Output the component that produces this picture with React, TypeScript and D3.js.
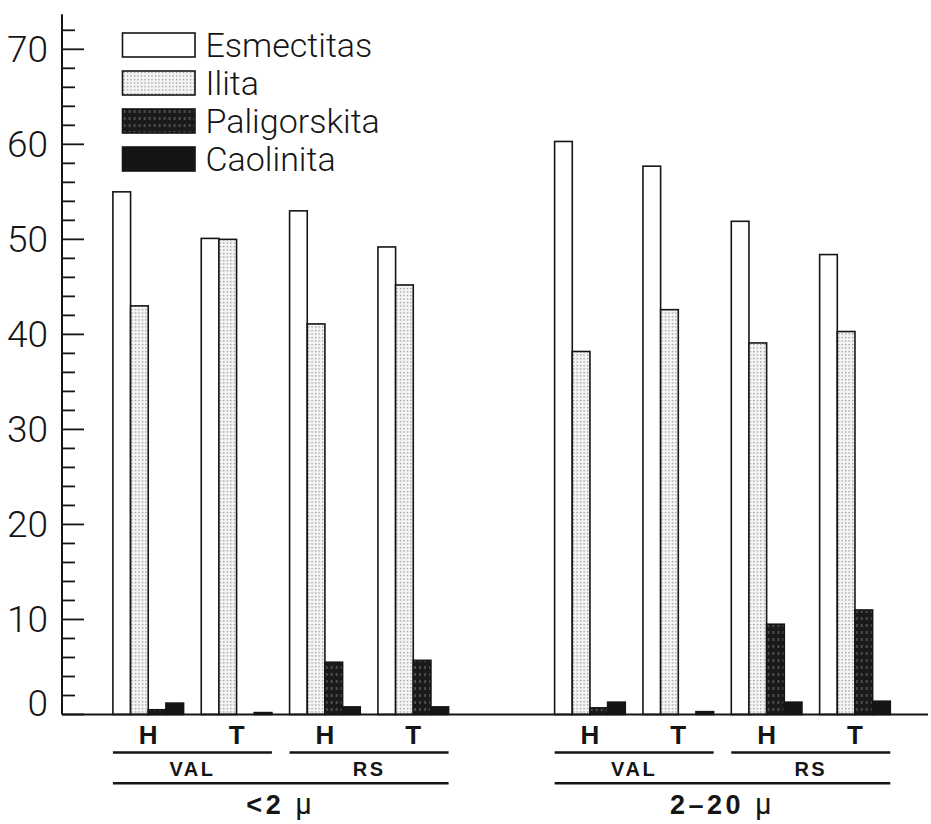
import React from "react";
import * as d3 from "d3";

const sizeClasses = ["<2", "2–20"];
const sites = ["VAL", "RS"];
const horizons = ["H", "T"];
const minerals = ["Esmectitas", "Ilita", "Paligorskita", "Caolinita"];
// order: <2 VAL H, <2 VAL T, <2 RS H, <2 RS T, 2-20 VAL H, 2-20 VAL T, 2-20 RS H, 2-20 RS T
const esmectitas = [55.0, 50.1, 53.0, 49.2, 60.3, 57.7, 51.9, 48.4];
const ilita = [43.0, 50.0, 41.1, 45.2, 38.2, 42.6, 39.1, 40.3];
const paligorskita = [0.5, 0, 5.5, 5.7, 0.7, 0, 9.5, 11.0];
const caolinita = [1.2, 0.2, 0.8, 0.8, 1.3, 0.3, 1.3, 1.4];
const tickLabels = [0, 10, 20, 30, 40, 50, 60, 70];

const seriesValues = [esmectitas, ilita, paligorskita, caolinita];
const fills = ["#ffffff", "url(#pIlita)", "url(#pPalig)", "#151515"];
const INK = "#151515";

export default function App() {
  const samples: { cls: string; site: string; hor: string; key: string }[] = [];
  sizeClasses.forEach((c) =>
    sites.forEach((s) =>
      horizons.forEach((h) => samples.push({ cls: c, site: s, hor: h, key: `${c}|${s}|${h}` }))
    )
  );
  const slotKeys = [
    ...samples.slice(0, 4).map((d) => d.key),
    "gap",
    ...samples.slice(4).map((d) => d.key),
  ];

  const x = d3
    .scaleBand<string>()
    .domain(slotKeys)
    .range([112.9, 890.3])
    .paddingInner(0.2)
    .paddingOuter(0);
  const xm = d3.scaleBand<string>().domain(minerals).range([0, x.bandwidth()]);
  const y = d3.scaleLinear().domain([0, 70]).range([714.5, 49.3]);

  const axisX = 62;
  const allTicks = d3.range(0, 73, 2);
  const tickFont = "Roboto, 'Open Sans', 'DejaVu Sans', sans-serif";
  const boldFont = "'Liberation Sans', Arial, sans-serif";

  const legendTop = 33;
  const legendPitch = 38;

  return (
    <svg
      width={931}
      height={824}
      viewBox="0 0 931 824"
      style={{ position: "absolute", left: 0, top: 0, background: "#fff" }}
    >
      <defs>
        <pattern id="pIlita" width={3.5} height={3.5} patternUnits="userSpaceOnUse">
          <rect width={3.5} height={3.5} fill="#f4f4f4" />
          <rect x={1} y={1} width={1.1} height={1.1} fill="#6a6a6a" />
        </pattern>
        <pattern id="pPalig" width={5} height={7} patternUnits="userSpaceOnUse">
          <rect width={5} height={7} fill="#1a1a1a" />
          <rect x={1.5} y={1} width={1.3} height={3} fill="#9a9a9a" opacity={0.6} />
        </pattern>
      </defs>

      {/* bars */}
      {samples.map((s, i) => (
        <g key={s.key} transform={`translate(${x(s.key)},0)`}>
          {minerals.map((m, j) => {
            const v = seriesValues[j][i];
            if (!(v > 0)) return null;
            return (
              <rect
                key={m}
                x={xm(m)}
                y={y(v)}
                width={xm.bandwidth()}
                height={y(0) - y(v)}
                fill={fills[j]}
                stroke={INK}
                strokeWidth={1.6}
              />
            );
          })}
        </g>
      ))}

      {/* y axis */}
      <line x1={axisX} x2={axisX} y1={y(0)} y2={y(73.7)} stroke={INK} strokeWidth={2} />
      {allTicks.map((t) => (
        <line
          key={t}
          x1={axisX}
          x2={axisX + (t % 10 === 0 ? 22 : 13)}
          y1={y(t)}
          y2={y(t)}
          stroke={INK}
          strokeWidth={1.8}
        />
      ))}
      {tickLabels.map((t) => (
        <text
          key={t}
          x={48}
          y={t === 0 ? y(t) - 11 : y(t)}
          textAnchor="end"
          dominantBaseline="central"
          fontFamily={tickFont}
          fontWeight={300}
          fontSize={37}
          fill={INK}
        >
          {t}
        </text>
      ))}

      {/* x baseline */}
      <line x1={axisX} x2={928} y1={y(0)} y2={y(0)} stroke={INK} strokeWidth={2} />

      {/* legend */}
      {minerals.map((m, j) => (
        <g key={m} transform={`translate(122.5,${legendTop + j * legendPitch})`}>
          <rect width={72.5} height={24} fill={fills[j]} stroke={INK} strokeWidth={1.6} />
          <text
            x={83}
            y={24}
            fontFamily={tickFont}
            fontWeight={300}
            fontSize={34}
            fill={INK}
          >
            {m}
          </text>
        </g>
      ))}

      {/* horizon labels */}
      {samples.map((s) => (
        <text
          key={"h" + s.key}
          x={(x(s.key) as number) + x.bandwidth() / 2}
          y={744}
          textAnchor="middle"
          fontFamily={boldFont}
          fontWeight={700}
          fontSize={26}
          fill={INK}
        >
          {s.hor}
        </text>
      ))}

      {/* site lines and labels */}
      {sizeClasses.map((c) =>
        sites.map((st) => {
          const k1 = `${c}|${st}|${horizons[0]}`;
          const k2 = `${c}|${st}|${horizons[horizons.length - 1]}`;
          const x1 = x(k1) as number;
          const x2 = (x(k2) as number) + x.bandwidth();
          return (
            <g key={c + st}>
              <line x1={x1} x2={x2} y1={752.5} y2={752.5} stroke={INK} strokeWidth={2.6} />
              <text
                x={(x1 + x2) / 2}
                y={776}
                textAnchor="middle"
                fontFamily={boldFont}
                fontWeight={700}
                fontSize={20}
                letterSpacing={2.5}
                fill={INK}
              >
                {st}
              </text>
            </g>
          );
        })
      )}

      {/* size class lines and labels */}
      {sizeClasses.map((c) => {
        const k1 = `${c}|${sites[0]}|${horizons[0]}`;
        const k2 = `${c}|${sites[sites.length - 1]}|${horizons[horizons.length - 1]}`;
        const x1 = x(k1) as number;
        const x2 = (x(k2) as number) + x.bandwidth();
        return (
          <g key={"c" + c}>
            <line x1={x1} x2={x2} y1={783.3} y2={783.3} stroke={INK} strokeWidth={2.6} />
            <text
              x={(x1 + x2) / 2}
              y={814}
              textAnchor="middle"
              fontFamily={boldFont}
              fontWeight={700}
              fontSize={27}
              letterSpacing={3.5}
              fill={INK}
            >
              {c + " "}
              <tspan fontWeight={400} fontFamily={tickFont} fontSize={29}>µ</tspan>
            </text>
          </g>
        );
      })}
    </svg>
  );
}
